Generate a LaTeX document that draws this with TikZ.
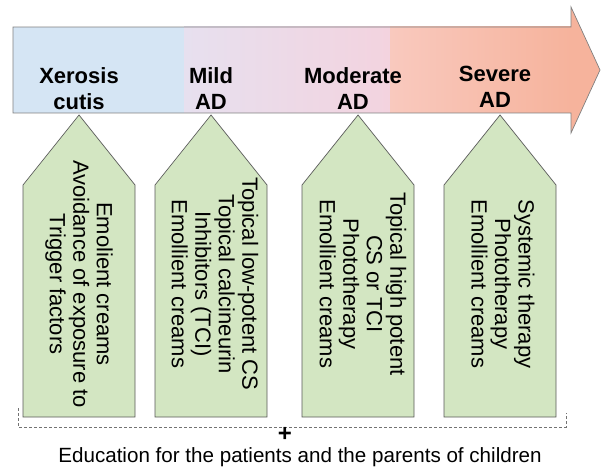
\documentclass[tikz,border=0pt]{standalone}
\usepackage{fontspec}
\setmainfont{Liberation Sans}
\definecolor{xeroblue}{HTML}{D5E5F4}
\definecolor{mildlav}{HTML}{E7E0EF}
\definecolor{modpink}{HTML}{F3D3DF}
\definecolor{sevsalmon}{HTML}{F9C9BE}
\definecolor{sevdeep}{HTML}{F6B39C}
\definecolor{stepgreen}{HTML}{D3E6C2}
\begin{document}
\begin{tikzpicture}[x=1pt, y=-1pt,
        stage/.style={font=\fontsize{22}{26}\selectfont\bfseries, align=center, inner sep=0pt},
        therapy/.style={font=\fontsize{22}{23.5}\selectfont, align=center, rotate=-90, inner sep=0pt},
        house/.style={draw=black!65, fill=stepgreen, line width=0.7pt},
        bracket/.style={draw=black!55, dashed, dash pattern=on 3pt off 2pt, line width=0.7pt}]

        \useasboundingbox (0, 0) rectangle (605, 470);

        % severity arrow
        \fill[xeroblue] (13, 27) rectangle (184, 113);
        \shade[left color=mildlav, right color=modpink] (184, 27) rectangle (390, 113);
        \shade[left color=sevsalmon, right color=sevdeep] (390, 27) rectangle (571, 113);
        \fill[sevdeep] (571, 7) -- (600, 70) -- (571, 133) -- cycle;
        \draw[black!50, line width=0.7pt] (13, 27) -- (571, 27) -- (571, 7) -- (600, 70)
            -- (571, 133) -- (571, 113) -- (13, 113) -- cycle;

        \node[stage] (xerosis) at (79, 89) {Xerosis\\cutis};
        \node[stage] (mild) at (211, 89) {Mild\\AD};
        \node[stage] (moderate) at (353, 89) {Moderate\\AD};
        \node[stage] (severe) at (495, 87) {Severe\\AD};

        % treatment steps
        \foreach \cx/\dx/\name/\txt in {
                79/0/step1/{Emolient creams\\Avoidance of exposure to\\Trigger factors},
                211/4/step2/{Topical low-potent CS\\Topical calcineurin\\Inhibitors (TCI)\\Emollient creams},
                358/5/step3/{Topical high potent\\CS or TCI\\Phototherapy\\Emollient creams},
                500/3/step4/{Systemic therapy\\Phototherapy\\Emollient creams}} {
            \draw[house] (\cx, 115) -- (\cx+56, 185) -- (\cx+56, 417) -- (\cx-56, 417)
                -- (\cx-56, 185) -- cycle;
            \node[therapy] (\name) at (\cx+\dx, 284) {\txt};
        }

        % education for all stages
        \coordinate (bl) at (18, 408);
        \coordinate (br) at (566, 413);
        \draw[bracket] (bl) |- (br |- 0, 427) -- (br);
        \node[font=\fontsize{24}{24}\selectfont\bfseries, inner sep=0pt] (plus) at (285, 434) {+};
        \node[font=\fontsize{20.6}{22}\selectfont, anchor=base, inner sep=0pt] (education) at (300, 462)
            {Education for the patients and the parents of children};
    \end{tikzpicture}
\end{document}
